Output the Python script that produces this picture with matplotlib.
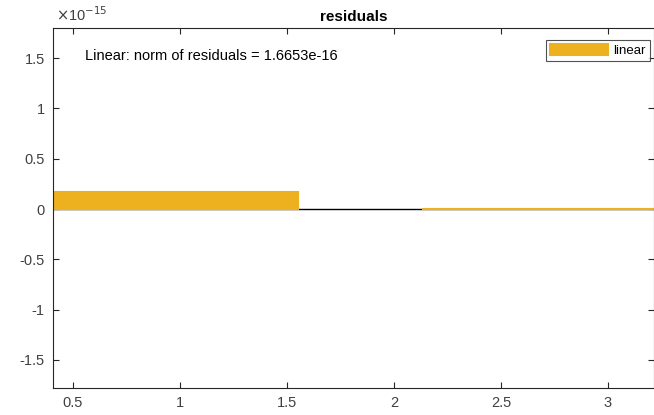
import numpy as np
import matplotlib
matplotlib.use("Agg")
import matplotlib.pyplot as plt
from matplotlib.ticker import FixedLocator, FuncFormatter

# residual data (basic fitting, linear fit)
x = [0.95, 1.84, 2.73]
residuals = [1.6653e-16, 0.0, 1.0e-18]
bar_width = 1.2
norm_text = "Linear: norm of residuals = 1.6653e-16"
legend_labels = ["linear"]
yticks = [-1.5, -1, -0.5, 0, 0.5, 1, 1.5]
xticks = [0.5, 1, 1.5, 2, 2.5, 3]

plt.rcParams['font.family'] = ['Liberation Sans', 'DejaVu Sans']

orange = "#EDB120"
axcol = "#262626"

fig = plt.figure(figsize=(6.54, 4.15), dpi=100)
ax = fig.add_axes([0.081, 0.065, 0.919, 0.8675])

scale = 1e-15
vals = np.array(residuals) / scale

ax.axhline(0, color="black", lw=1.0, zorder=1)
lws = [1.5 if v != 0 else 0.0 for v in vals]
ax.bar(x, vals, width=bar_width, color=orange, edgecolor=orange,
       linewidth=lws, zorder=2, label=legend_labels[0])

ax.set_xlim(0.407, 3.215)
ax.set_ylim(-1.78, 1.8)
ax.yaxis.set_major_locator(FixedLocator(yticks))
ax.xaxis.set_major_locator(FixedLocator(xticks))
ax.yaxis.set_major_formatter(FuncFormatter(lambda v, p: "%g" % v))
ax.xaxis.set_major_formatter(FuncFormatter(lambda v, p: "%g" % v))

ax.tick_params(direction="in", length=4, width=0.8, colors=axcol,
               labelsize=10.5, labelcolor="#404040", top=True, right=True, pad=6)
for s in ax.spines.values():
    s.set_color(axcol)
    s.set_linewidth(0.8)

ax.set_title("residuals", fontsize=11, fontweight="bold", color="black", pad=5)
ax.text(0.005, 1.012, r"$\times$10$^{-15}$", transform=ax.transAxes,
        fontsize=10.5, color="#404040", ha="left", va="bottom")

ax.text(0.556, 1.52, norm_text, fontsize=10.5, color="black",
        ha="left", va="center")

leg = ax.legend(loc="upper right", bbox_to_anchor=(0.993, 0.967), fontsize=9.5,
                frameon=True, fancybox=False, handlelength=4.4, handleheight=0.9,
                handletextpad=0.4, borderpad=0.3, borderaxespad=0)
leg.get_frame().set_edgecolor(axcol)
leg.get_frame().set_linewidth(0.8)

fig.savefig("out.png", dpi=100)
